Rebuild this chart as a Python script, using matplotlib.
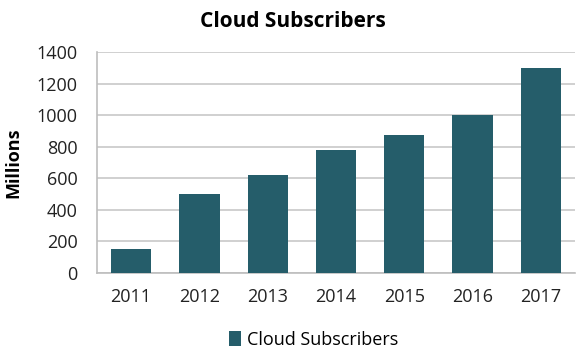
import matplotlib.pyplot as plt

years = ['2011', '2012', '2013', '2014', '2015', '2016', '2017']
subscribers = [150, 500, 620, 780, 875, 1000, 1300]

plt.rcParams['font.family'] = ['Open Sans', 'DejaVu Sans']

fig = plt.figure(figsize=(5.86, 3.58), dpi=100)
ax = fig.add_axes([0.1655, 0.2374, 0.8155, 0.6173])

x = range(len(years))
ax.bar(x, subscribers, width=0.59, color='#255d6a', label='Cloud Subscribers', zorder=3)

ax.set_xlim(-0.5, 6.5)
ax.set_ylim(0, 1400)
ax.set_yticks(range(0, 1401, 200))
ax.set_xticks(list(x))
ax.set_xticklabels(years)
ax.tick_params(length=0, labelsize=13, colors='#222222')
ax.tick_params(axis='x', pad=11)
ax.tick_params(axis='y', pad=14)
ax.grid(axis='y', color='#c8c8c8', linewidth=1.2, zorder=0)
for s in ['top', 'right']:
    ax.spines[s].set_visible(False)
for s in ['left', 'bottom']:
    ax.spines[s].set_color('#bdbdbd')
    ax.spines[s].set_linewidth(1.2)

ax.set_ylabel('Millions', fontsize=13, fontweight='bold', labelpad=10)
fig.text(0.5, 0.94, 'Cloud Subscribers', ha='center', va='center', fontsize=15, fontweight='bold')

fig.legend(loc='center', bbox_to_anchor=(0.535, 0.05), frameon=False, fontsize=13,
           handlelength=0.7, handleheight=0.9, handletextpad=0.3)

fig.savefig('out.png', dpi=100)
